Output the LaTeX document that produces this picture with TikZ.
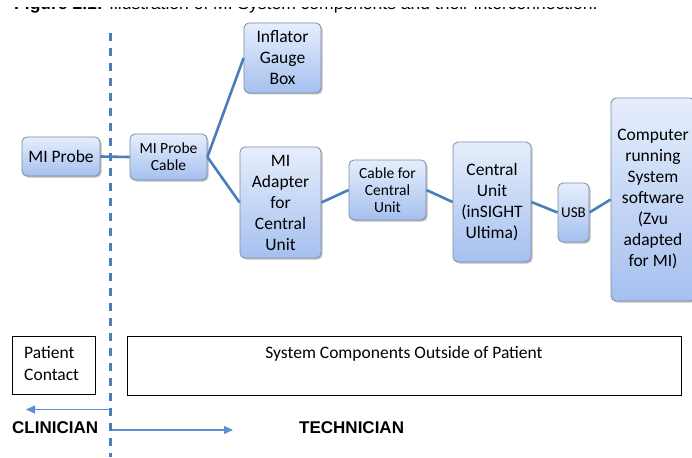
\documentclass[tikz,border=0pt]{standalone}
\usepackage{fontspec}
\setmainfont{Carlito}
\newfontfamily\arialfont{Liberation Sans}
\usetikzlibrary{shadows,arrows.meta}
\definecolor{linkblue}{HTML}{4A7EBB}
\definecolor{arrowblue}{HTML}{5B8FD3}
\definecolor{boxtop}{HTML}{E6EEFC}
\definecolor{boxbot}{HTML}{A5C0EF}
\definecolor{boxedge}{HTML}{7C8CA8}
\tikzset{
  comp/.style={rectangle, rounded corners=5pt, draw=boxedge, line width=0.8pt,
    top color=boxtop, bottom color=boxbot, align=center, inner sep=0pt,
    font=\fontsize{17.5}{21}\selectfont,
    drop shadow={shadow xshift=1.5pt, shadow yshift=-1.5pt, opacity=0.25, fill=black}},
  smallcomp/.style={comp, font=\fontsize{15.5}{17}\selectfont},
  link/.style={draw=linkblue, line width=2.6pt},
  divider/.style={draw=linkblue, line width=3pt, dash pattern=on 8pt off 7pt},
  sideArrow/.style={draw=arrowblue, line width=1.2pt, -{Triangle[length=9pt,width=8pt]}},
  plainbox/.style={rectangle, draw=black, line width=0.8pt, inner sep=0pt},
  bottomtext/.style={font=\fontsize{17.5}{22}\selectfont, inner sep=0pt},
  rolelabel/.style={font=\arialfont\bfseries\fontsize{17}{20}\selectfont, inner sep=0pt}
}
\begin{document}
\begin{tikzpicture}[x=1pt,y=-1pt]
\clip (0,0) rectangle (692,457);
\fill[white] (0,0) rectangle (692,457);
% caption, its upper part cut away as in the reference
\node[anchor=base west, inner sep=0pt, font=\arialfont\fontsize{17.5}{20}\selectfont] (caption) at (14,10)
  {\textbf{Figure 2.1:} Illustration of MI System components and their interconnection.};
\fill[white] (0,0) rectangle (692,7.5);
% divider
\coordinate (divtop) at (110,33);
\coordinate (divbot) at (110,457);
% components
\node[comp, minimum width=78pt, minimum height=39pt] (probe) at (61,156.5) {MI Probe};
\node[smallcomp, minimum width=77pt, minimum height=46pt] (pcable) at (168.5,157) {MI Probe\\Cable};
\node[comp, minimum width=77pt, minimum height=70pt] (gauge) at (282.5,58) {Inflator\\Gauge\\Box};
\node[comp, minimum width=81pt, minimum height=111pt] (adapter) at (280.5,202.5) {MI\\Adapter\\for\\Central\\Unit};
\node[smallcomp, minimum width=77pt, minimum height=60pt] (ccable) at (387.5,190) {Cable for\\Central\\Unit};
\node[comp, minimum width=78pt, minimum height=120pt] (cu) at (492,202) {Central\\Unit\\(inSIGHT\\Ultima)};
\node[smallcomp, font=\fontsize{15}{17}\selectfont, minimum width=31pt, minimum height=59pt] (usb) at (573.5,212.5) {USB};
\node[comp, minimum width=84pt, minimum height=203pt] (pc) at (653,199.5) {Computer\\running\\System\\software\\(Zvu\\adapted\\for MI)};
% links
\draw[link] (probe.east) -- (pcable.west);
\draw[link] (pcable.east) -- (gauge.west);
\draw[link] (pcable.east) -- (adapter.west);
\draw[link] (adapter.east) -- (ccable.west);
\draw[link] (ccable.east) -- (cu.west);
\draw[link] (cu.east) -- (usb.west);
\draw[link] (usb.east) -- (pc.west);
\draw[divider] (divtop) -- (divbot);
% bottom boxes
\node[plainbox, minimum width=83pt, minimum height=58pt] (patientbox) at (53.5,365) {};
\node[bottomtext, anchor=north west, align=left] (patienttext) at (24,346) {Patient\\Contact};
\node[plainbox, minimum width=554pt, minimum height=59pt] (sysbox) at (404,365.5) {};
\node[bottomtext, anchor=north] (systext) at (404,346) {System Components Outside of Patient};
% roles
\coordinate (clinstart) at (110,409.5);
\coordinate (clinend) at (26,409.5);
\coordinate (techstart) at (112,430);
\coordinate (techend) at (233,430);
\draw[sideArrow] (clinstart) -- (clinend);
\draw[sideArrow] (techstart) -- (techend);
\node[rolelabel, anchor=west] (clinician) at (12,427.5) {CLINICIAN};
\node[rolelabel, anchor=west] (technician) at (299,427.5) {TECHNICIAN};
\end{tikzpicture}
\end{document}
